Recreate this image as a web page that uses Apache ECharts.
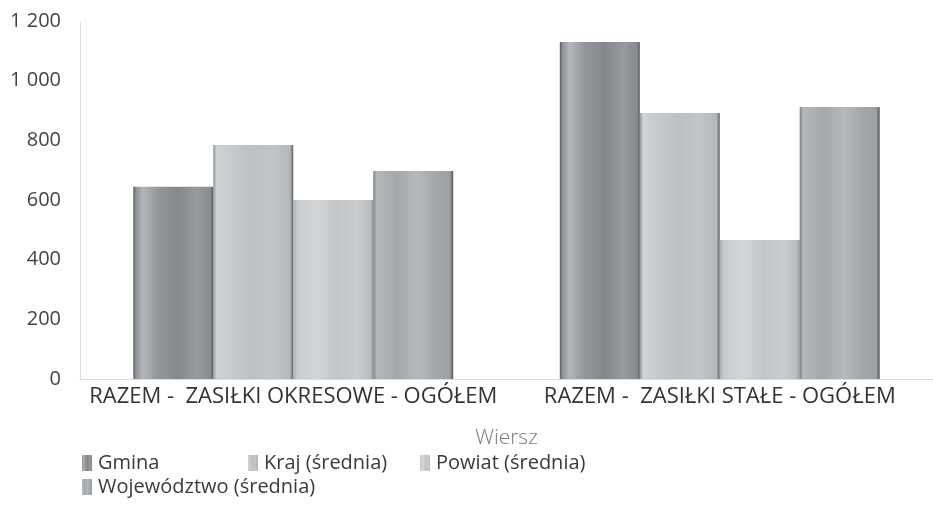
<!DOCTYPE html>
<html>
<head>
<meta charset="utf-8">
<script src="https://cdn.jsdelivr.net/npm/echarts@6/dist/echarts.min.js"></script>
<style>
  html, body { margin: 0; padding: 0; background: #fff; }
  #chart { width: 933px; height: 525px; }
</style>
</head>
<body>
<div id="chart"></div>
<script>
// Categories (rows) and values per series
const categories = ['RAZEM -  ZASIŁKI OKRESOWE - OGÓŁEM', 'RAZEM -  ZASIŁKI STAŁE - OGÓŁEM'];
const seriesNames = ['Gmina', 'Kraj (średnia)', 'Powiat (średnia)', 'Województwo (średnia)'];
const gmina = [644, 1130];
const kraj = [784, 892];
const powiat = [600, 466];
const wojewodztwo = [697, 912];
const yTicks = [0, 200, 400, 600, 800, 1000, 1200];

const values = [gmina, kraj, powiat, wojewodztwo];

// Textured-looking grey fills: horizontal gradients with dark edges
function fill(stops) {
  return {
    type: 'linear', x: 0, y: 0, x2: 1, y2: 0,
    colorStops: stops.map(s => ({ offset: s[0], color: s[1] }))
  };
}
const fills = [
  fill([[0, '#55585c'], [0.03, '#8d9195'], [0.12, '#b3b7bb'], [0.3, '#94989c'], [0.55, '#84888c'], [0.8, '#979b9f'], [0.97, '#868a8e'], [1, '#4d5054']]),
  fill([[0, '#8e9296'], [0.04, '#d0d3d6'], [0.25, '#c6c9cc'], [0.5, '#bcc0c3'], [0.75, '#c3c6c9'], [0.96, '#b3b7ba'], [1, '#5a5d61']]),
  fill([[0, '#a9adb0'], [0.05, '#c9cccf'], [0.3, '#d3d6d9'], [0.55, '#c2c5c8'], [0.8, '#cacdd0'], [0.97, '#b7bbbe'], [1, '#8e9296']]),
  fill([[0, '#7a7e82'], [0.04, '#b4b8bb'], [0.3, '#a4a8ab'], [0.55, '#b6b9bc'], [0.8, '#a2a6a9'], [0.96, '#9ca0a3'], [1, '#4f5256']])
];

const legendPos = [
  { left: 82, top: 453 },
  { left: 248, top: 453 },
  { left: 420, top: 453 },
  { left: 82, top: 477 }
];

const font = '"Open Sans", "Noto Sans", sans-serif';

const chart = echarts.init(document.getElementById('chart'), null, { renderer: 'canvas' });
chart.setOption({
  animation: false,
  textStyle: { fontFamily: font },
  grid: { left: 80, right: -13, top: 21, bottom: 146, containLabel: false },
  legend: seriesNames.map((n, i) => ({
    data: [n],
    left: legendPos[i].left,
    top: legendPos[i].top,
    itemWidth: 10,
    itemHeight: 16,
    itemGap: 0,
    padding: 0,
    icon: 'rect',
    selectedMode: false,
    textStyle: { fontSize: 20, color: '#3a3a3a', fontFamily: font, padding: [0, 0, 0, 1] }
  })),
  xAxis: {
    type: 'category',
    data: categories,
    name: 'Wiersz',
    nameLocation: 'middle',
    nameGap: 49,
    nameTextStyle: { fontSize: 21, color: '#7a7a7a', fontWeight: 300, fontFamily: font },
    axisLine: { show: true, lineStyle: { color: '#dcdcdc', width: 1 } },
    axisTick: { show: false },
    axisLabel: { fontSize: 22, color: '#333', margin: 7, interval: 0 }
  },
  yAxis: {
    type: 'value',
    min: 0,
    max: 1200,
    interval: 200,
    axisLine: { show: true, lineStyle: { color: '#d4d4d4', type: 'dotted', width: 1 } },
    axisTick: { show: false },
    splitLine: { show: false },
    axisLabel: {
      fontSize: 20, color: '#444', margin: 19,
      formatter: v => yTicks.includes(v) ? String(v).replace(/\B(?=(\d{3})+(?!\d))/g, ' ') : ''
    }
  },
  series: seriesNames.map((n, i) => ({
    name: n,
    type: 'bar',
    data: values[i],
    barGap: '0%',
    barCategoryGap: '25%',
    itemStyle: { color: fills[i] }
  }))
});
</script>
</body>
</html>
